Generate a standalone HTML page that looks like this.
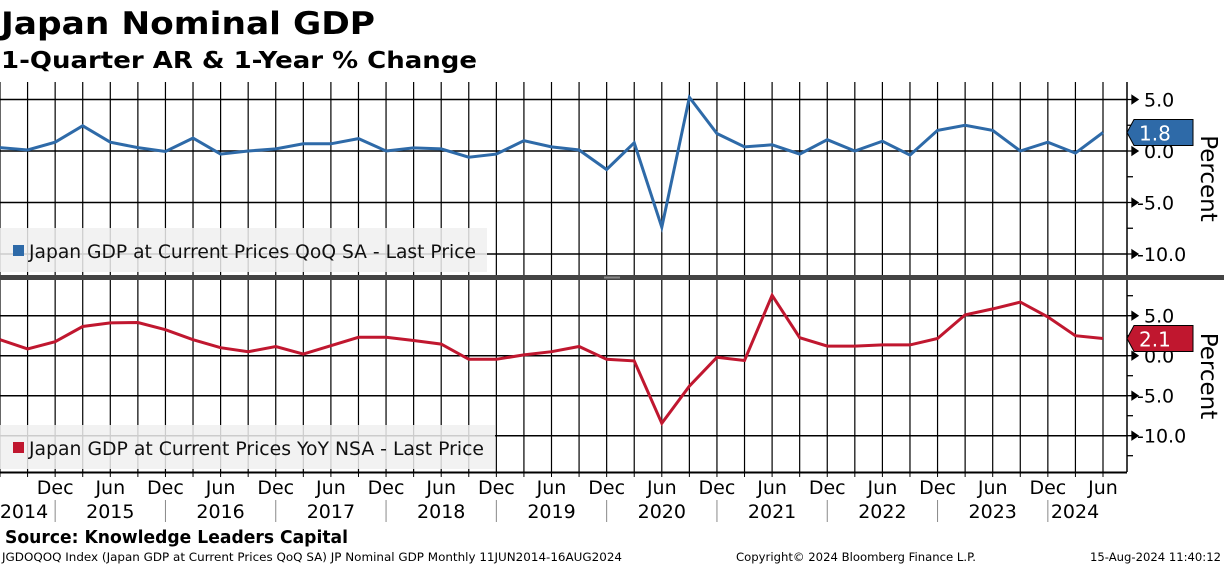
<!DOCTYPE html>
<html><head><meta charset="utf-8"><style>
html,body{margin:0;padding:0;background:#fff;}
svg{display:block;}
text{font-family:"DejaVu Sans","Liberation Sans",sans-serif;}
</style></head><body>
<svg id="chart" width="1224" height="566" viewBox="0 0 1224 566" xmlns="http://www.w3.org/2000/svg">
<text x="1" y="34" font-size="31" font-weight="bold" textLength="374" lengthAdjust="spacingAndGlyphs">Japan Nominal GDP</text>
<text x="1" y="68" font-size="23" font-weight="bold" textLength="476" lengthAdjust="spacingAndGlyphs">1-Quarter AR &amp; 1-Year % Change</text>
<g id="top"></g>
<g id="bot"></g>
<rect x="0" y="275" width="1224" height="5" fill="#444"/>
<rect x="604" y="276.5" width="16" height="2" fill="#888"/>
<g id="xaxis"></g>
<text x="5" y="543" font-size="18" font-weight="bold" textLength="343" lengthAdjust="spacingAndGlyphs">Source: Knowledge Leaders Capital</text>
<text x="2" y="561" font-size="11.5" textLength="620" lengthAdjust="spacingAndGlyphs">JGDOQOQ Index (Japan GDP at Current Prices QoQ SA) JP Nominal GDP  Monthly 11JUN2014-16AUG2024</text>
<text x="736" y="561" font-size="11.5" textLength="240" lengthAdjust="spacingAndGlyphs">Copyright© 2024 Bloomberg Finance L.P.</text>
<text x="1090" y="561" font-size="11.5" textLength="131" lengthAdjust="spacingAndGlyphs">15-Aug-2024 11:40:12</text>
</svg>
<script>
const qoqValues=[0.33,0.1,0.85,2.45,0.85,0.33,-0.05,1.25,-0.3,0.0,0.2,0.7,0.7,1.2,0.0,0.3,0.2,-0.6,-0.3,1.0,0.4,0.1,-1.8,0.8,-7.4,5.2,1.7,0.4,0.6,-0.3,1.1,0.0,0.95,-0.4,2.0,2.5,2.0,0.0,0.85,-0.2,1.8];
const yoyValues=[2.0,0.85,1.75,3.65,4.1,4.15,3.25,2.0,1.0,0.5,1.15,0.2,1.25,2.3,2.3,1.9,1.45,-0.45,-0.45,0.1,0.5,1.15,-0.45,-0.65,-8.45,-3.8,-0.2,-0.6,7.55,2.25,1.2,1.2,1.35,1.35,2.15,5.1,5.85,6.7,4.85,2.5,2.15];
const yTickLabels=["5.0","0.0","-5.0","-10.0"];
const yTickValues=[5,0,-5,-10];
const minorTickValues=[7.5,2.5,-2.5,-7.5,-12.5];
const yearLabels=["2014","2015","2016","2017","2018","2019","2020","2021","2022","2023","2024"];
const NS="http://www.w3.org/2000/svg";
const PW=1127, step=1103/40;
const xs=i=>i*step;
function mk(p,tag,a){const e=document.createElementNS(NS,tag);for(const k in a)e.setAttribute(k,a[k]);p.appendChild(e);return e;}
function panel(g,top,bottom,y0,ppu,vals,color,legendText,legendW,legendY,lastLabel,kind){
  const y=v=>y0-v*ppu;
  for(let i=0;i<=40;i++){
    const l=mk(g,'line',{x1:xs(i),x2:xs(i),y1:top,y2:bottom,stroke:'#000','stroke-width':1.2});
    
    
  }
  yTickValues.forEach((v,k)=>{
    const l=mk(g,'line',{x1:0,x2:PW,y1:y(v),y2:y(v),stroke:'#000','stroke-width':1.5});
    
    
    const tk=mk(g,'path',{d:`M${PW} ${y(v)}h6M${PW+5} ${y(v)-4}l6 4l-6 4z`,stroke:'#000',fill:'#000','stroke-width':1.3});
    
    
    const t=mk(g,'text',{x:v<0?1137:1144,y:y(v)+7,'font-size':19});
    t.textContent=yTickLabels[k];
    
    
  });
  minorTickValues.forEach(v=>{
    if(y(v)>top+2&&y(v)<bottom-2){
      const l=mk(g,'line',{x1:PW,x2:PW+6,y1:y(v),y2:y(v),stroke:'#000','stroke-width':1.3});
      
      
    }
  });
  const ax=mk(g,'line',{x1:PW,x2:PW,y1:top,y2:bottom,stroke:'#000','stroke-width':1.5});
  
  
  const lg=mk(g,'g',{});
  
  
  mk(lg,'rect',{x:0,y:legendY,width:legendW,height:bottom-legendY-3,fill:'rgba(240,240,240,0.85)'});
  const sw=mk(lg,'rect',{x:13,y:legendY+17,width:11,height:11,fill:color});
  
  
  const lt=mk(lg,'text',{x:29,y:legendY+30,'font-size':19,fill:'#111',textLength:legendW-40,lengthAdjust:'spacingAndGlyphs'});
  lt.textContent=legendText;
  
  
  const pts=vals.map((v,i)=>xs(i).toFixed(1)+','+y(v).toFixed(1)).join(' ');
  const pl=mk(g,'polyline',{points:pts,fill:'none',stroke:color,'stroke-width':3,'stroke-linejoin':'miter'});
  
  
  const ly=y(vals[vals.length-1]);
  const bx=mk(g,'path',{d:`M${PW} ${ly}L${PW+7} ${ly-13}H1193V${ly+13}H${PW+7}Z`,fill:color,stroke:'#000','stroke-width':1});
  
  
  const bt=mk(g,'text',{x:1139,y:ly+8,'font-size':20,fill:'#fff'});
  bt.textContent=lastLabel;
  
  
  const cy=(top+bottom)/2;
  const pt=mk(g,'text',{x:0,y:0,'font-size':23,transform:`translate(1201,${cy}) rotate(90)`,'text-anchor':'middle'});
  pt.textContent='Percent';
  
  
}
panel(document.getElementById('top'),82,275,151,10.3,qoqValues,'#2e6aa8','Japan GDP at Current Prices QoQ SA - Last Price',487,228,qoqValues[40].toFixed(1),'qoq');
panel(document.getElementById('bot'),280,472,355.7,8.0,yoyValues,'#c0172f','Japan GDP at Current Prices YoY NSA - Last Price',495,425,yoyValues[40].toFixed(1),'yoy');
const xa=document.getElementById('xaxis');
const base=mk(xa,'line',{x1:0,x2:PW,y1:472.5,y2:472.5,stroke:'#000','stroke-width':2});


for(let i=0;i<=40;i++){
  const t=mk(xa,'line',{x1:xs(i),x2:xs(i),y1:472,y2:477,stroke:'#000','stroke-width':1});
  
  
  if(i%2===0&&i>0){
    const lb=mk(xa,'text',{x:xs(i),y:494,'font-size':19,'text-anchor':'middle'});
    lb.textContent=(i%4===2)?'Dec':'Jun';
    
    
  }
  if(i%4===2){
    const s=mk(xa,'line',{x1:xs(i),x2:xs(i),y1:500,y2:522,stroke:'#888','stroke-width':1});
    
    
  }
}
yearLabels.forEach((yr,k)=>{
  let cx=k===0?24:xs(4*k);
  if(k===10)cx=1075;
  const t=mk(xa,'text',{x:cx,y:518,'font-size':19,'text-anchor':'middle'});
  t.textContent=yr;
  
  
});
</script>
</body></html>
